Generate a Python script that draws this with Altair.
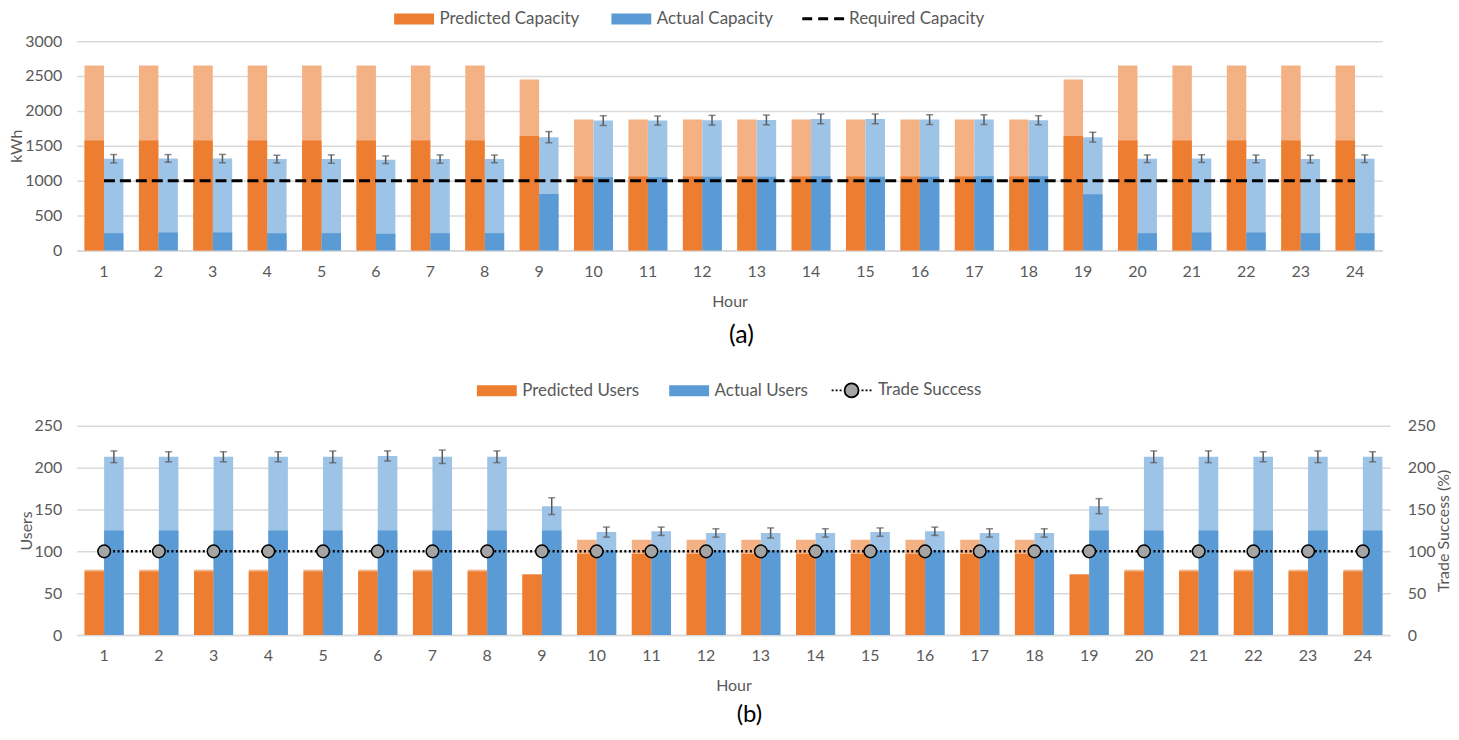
import altair as alt
import pandas as pd

# ---------------- data ----------------
hours = [1, 2, 3, 4, 5, 6, 7, 8, 9, 10, 11, 12, 13, 14, 15, 16, 17, 18, 19, 20, 21, 22, 23, 24]

cap_names = ["Predicted Capacity", "Actual Capacity"]
pred_cap_total = [2650, 2650, 2650, 2650, 2650, 2650, 2650, 2650, 2450, 1875, 1875, 1875,
                  1875, 1875, 1875, 1875, 1875, 1875, 2450, 2650, 2650, 2650, 2650, 2650]
pred_cap_dark = [1575, 1575, 1575, 1575, 1575, 1575, 1575, 1575, 1640, 1060, 1060, 1060,
                 1060, 1060, 1060, 1060, 1060, 1060, 1640, 1575, 1575, 1575, 1575, 1575]
act_cap_total = [1314, 1319, 1316, 1309, 1309, 1300, 1309, 1312, 1623, 1861, 1861, 1866,
                 1870, 1885, 1885, 1875, 1875, 1866, 1623, 1314, 1316, 1312, 1309, 1314]
act_cap_dark = [247, 257, 257, 247, 247, 238, 247, 247, 810, 1047, 1047, 1057,
                1057, 1062, 1057, 1057, 1062, 1062, 805, 247, 257, 257, 247, 247]
act_cap_err = [60, 55, 60, 55, 60, 55, 60, 55, 80, 70, 65, 70,
               70, 70, 70, 70, 70, 65, 70, 55, 55, 55, 55, 55]
required_cap = [1000, 1000, 1000, 1000, 1000, 1000, 1000, 1000, 1000, 1000, 1000, 1000,
                1000, 1000, 1000, 1000, 1000, 1000, 1000, 1000, 1000, 1000, 1000, 1000]

user_names = ["Predicted Users", "Actual Users"]
pred_users_total = [78, 78, 78, 78, 78, 78, 78, 78, 73, 114, 114, 114,
                    114, 114, 114, 114, 114, 114, 73, 78, 78, 78, 78, 78]
pred_users_dark = [76, 76, 76, 76, 76, 76, 76, 76, 72, 97, 97, 97,
                   97, 97, 97, 97, 97, 97, 72, 76, 76, 76, 76, 76]
act_users_total = [213, 213, 213, 213, 213, 214, 213, 213, 154, 123, 124, 122,
                   122, 122, 123, 124, 122, 122, 154, 213, 213, 213, 213, 213]
act_users_dark = [125, 125, 125, 125, 125, 125, 125, 125, 125, 101, 101, 101,
                  101, 101, 101, 101, 101, 101, 125, 125, 125, 125, 125, 125]
act_users_err = [7, 6, 6, 6, 7, 6, 8, 7, 10, 6, 5, 5,
                 6, 5, 5, 5, 5, 5, 9, 7, 7, 6, 7, 6]
trade_success = [100, 100, 100, 100, 100, 100, 100, 100, 100, 100, 100, 100,
                 100, 100, 100, 100, 100, 100, 100, 100, 100, 100, 100, 100]

# ---------------- style ----------------
FONT = "Lato"
TXT = "#595959"
GRID = "#D9D9D9"
ORANGE, ORANGE_L = "#ED7D31", "#F4B183"
BLUE, BLUE_L = "#5B9BD5", "#9DC3E6"
ERR = "#595959"

RECT = "M-4,-1.1H4V1.1H-4Z"
DASH = "M-4.3,0H4.3"
DOTCIRC = ("M-4,0H-3.6M-3.2,0H-2.8M-2.4,0H-2M2,0H2.4M2.8,0H3.2M3.6,0H4"
           "M-1.4,0A1.4,1.4,0,1,1,1.4,0A1.4,1.4,0,1,1,-1.4,0Z")


def bar_frame(names, p_tot, p_dark, a_tot, a_dark, a_err):
    rows = []
    for i, h in enumerate(hours):
        rows.append(dict(hour=h, series=names[0], total=p_tot[i], dark=p_dark[i]))
        rows.append(dict(hour=h, series=names[1], total=a_tot[i], dark=a_dark[i],
                         lo=a_tot[i] - a_err[i], hi=a_tot[i] + a_err[i]))
    return pd.DataFrame(rows)


def x_enc():
    return alt.X("hour:O",
                 scale=alt.Scale(paddingInner=0.285, paddingOuter=0.1425),
                 axis=alt.Axis(title="Hour", labelAngle=0, ticks=False, domainColor=GRID,
                               domainWidth=1.5, labelPadding=13, titlePadding=14, grid=False))


def xo_enc(names):
    return alt.XOffset("series:N", scale=alt.Scale(domain=names, paddingInner=0, paddingOuter=0))


def leg(x, y, sym, lo=17, cp=31, **kw):
    return alt.Legend(orient="none", legendX=x, legendY=y, direction="horizontal", title=None,
                      symbolType=sym, symbolSize=100, labelOffset=lo, padding=0,
                      columnPadding=cp, **kw)


def panel(names, df, y_domain, y_values, y_title, legend_xy, cp):
    def y(field):
        return alt.Y(field, scale=alt.Scale(domain=y_domain),
                     axis=alt.Axis(title=y_title, values=y_values, format="d", grid=True,
                                   gridColor=GRID, gridWidth=1.5, ticks=False, domain=False,
                                   labelPadding=15, titlePadding=0))

    base = alt.Chart(df)
    light = base.mark_bar().encode(
        x=x_enc(), xOffset=xo_enc(names), y=y("total:Q"),
        fill=alt.condition(alt.datum.series == names[0], alt.value(ORANGE_L), alt.value(BLUE_L)))
    dark = base.mark_bar().encode(
        x=x_enc(), xOffset=xo_enc(names), y=y("dark:Q"),
        color=alt.Color("series:N", scale=alt.Scale(domain=names, range=[ORANGE, BLUE]),
                        legend=leg(legend_xy[0], legend_xy[1], RECT, cp=cp, symbolStrokeWidth=0,
                                   symbolOpacity=1)))
    err_df = df[df["series"] == names[1]]
    rule = alt.Chart(err_df).mark_rule(color=ERR, strokeWidth=1.5).encode(
        x=x_enc(), xOffset=xo_enc(names), y=y("lo:Q"), y2="hi:Q")
    cap_lo = alt.Chart(err_df).mark_tick(color=ERR, thickness=1.5, size=7).encode(
        x=x_enc(), xOffset=xo_enc(names), y=y("lo:Q"))
    cap_hi = alt.Chart(err_df).mark_tick(color=ERR, thickness=1.5, size=7).encode(
        x=x_enc(), xOffset=xo_enc(names), y=y("hi:Q"))
    return alt.layer(light, dark, rule, cap_lo, cap_hi), y


# ---------------- panel (a) ----------------
df_a = bar_frame(cap_names, pred_cap_total, pred_cap_dark, act_cap_total, act_cap_dark,
                 act_cap_err)
bars_a, y_a = panel(cap_names, df_a, [0, 3000], [0, 500, 1000, 1500, 2000, 2500, 3000],
                    "kWh", (330, -31), 31)
req_df = pd.DataFrame({"hour": hours, "value": required_cap, "name": "Required Capacity"})
req_line = alt.Chart(req_df).mark_line(strokeDash=[11, 5], strokeWidth=3).encode(
    x=x_enc(), y=y_a("value:Q"),
    stroke=alt.Stroke("name:N", scale=alt.Scale(domain=["Required Capacity"], range=["black"]),
                      legend=leg(741, -31, DASH, lo=17, symbolDash=[10, 6], symbolStrokeWidth=3)))
chart_a = alt.layer(bars_a, req_line).properties(
    width=1310, height=210,
    title=alt.TitleParams("(a)", orient="bottom", anchor="middle", frame="group", offset=14, dx=12))

# ---------------- panel (b) ----------------
df_b = bar_frame(user_names, pred_users_total, pred_users_dark, act_users_total, act_users_dark,
                 act_users_err)
bars_b, y_b = panel(user_names, df_b, [0, 250], [0, 50, 100, 150, 200, 250],
                    "Users", (413, -44), 29)
ts_df = pd.DataFrame({"hour": hours, "value": trade_success, "name": "Trade Success"})
y_ts = alt.Y("value:Q", scale=alt.Scale(domain=[0, 250]),
             axis=alt.Axis(title="Trade Success (%)", orient="right",
                           values=[0, 50, 100, 150, 200, 250], format="d",
                           grid=False, ticks=False, domain=False, labelPadding=17,
                           titleAngle=270, titleBaseline="middle", titleX=53, titleY=105,
                           titleAlign="center"))
ts_line = alt.Chart(ts_df).mark_line(color="black", strokeDash=[2, 2.5], strokeWidth=2.5).encode(
    x=x_enc(), y=y_ts)
ts_pts = alt.Chart(ts_df).mark_point(filled=True, size=160, stroke="black", strokeWidth=1.5,
                                     opacity=1).encode(
    x=x_enc(), y=y_ts,
    fill=alt.Fill("name:N", scale=alt.Scale(domain=["Trade Success"], range=["#A5A5A5"]),
                  legend=leg(769, -44, DOTCIRC, lo=18, symbolStrokeColor="black",
                             symbolStrokeWidth=1.8)))
chart_b = alt.layer(bars_b, alt.layer(ts_line, ts_pts)).resolve_scale(
    y="independent").properties(
    width=1318, height=210,
    title=alt.TitleParams("(b)", orient="bottom", anchor="middle", frame="group", offset=9, dx=16,
                          fontSize=24))

chart = alt.concat(chart_a, chart_b, columns=1, spacing=34, align="none").resolve_scale(
    color="independent", fill="independent", stroke="independent", xOffset="independent",
    x="independent", y="independent"
).resolve_legend(color="independent", fill="independent", stroke="independent").configure(
    font=FONT, padding={"left": 0, "top": 1, "right": 0, "bottom": 0}, background="white"
).configure_view(stroke=None).configure_axis(
    labelFont=FONT, titleFont=FONT, labelColor=TXT, titleColor=TXT, labelFontSize=16,
    titleFontSize=16, titleFontWeight="normal"
).configure_legend(labelFont=FONT, labelFontSize=17, labelColor=TXT).configure_title(
    font=FONT, fontSize=25, color="black", fontWeight="normal")

chart.save("out.html", embed_options={"renderer": "svg", "actions": False})
